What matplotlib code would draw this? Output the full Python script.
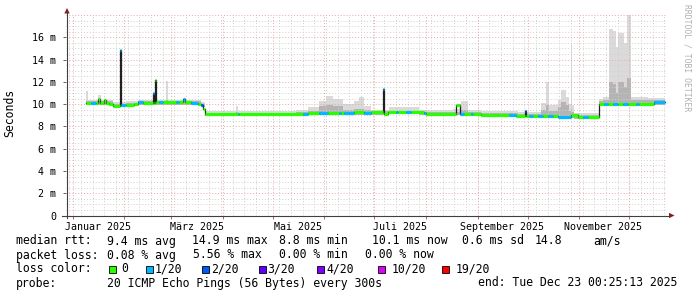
import matplotlib
matplotlib.use('Agg')
import matplotlib.pyplot as plt
import pandas as pd
from matplotlib.lines import Line2D
from matplotlib.patches import Polygon, Rectangle

# ---------------- data ----------------
x_start = "2024-12-28 00:25:13"
x_end = "2025-12-23 00:25:13"

med_dates = ["2025-01-09", "2025-01-12", "2025-01-15", "2025-01-16 12:00", "2025-01-17 12:00",
             "2025-01-20", "2025-01-21", "2025-01-23", "2025-01-25", "2025-01-29 12:00",
             "2025-01-30 02:00", "2025-02-02", "2025-02-07", "2025-02-09", "2025-02-12",
             "2025-02-18 00:00", "2025-02-18 14:00", "2025-02-19 12:00", "2025-02-20 02:00", "2025-02-22",
             "2025-02-24", "2025-03-04", "2025-03-06", "2025-03-08 12:00", "2025-03-09 12:00",
             "2025-03-13", "2025-03-17", "2025-03-19", "2025-03-20 12:00", "2025-03-21 12:00",
             "2025-04-10", "2025-04-11", "2025-05-19", "2025-05-22", "2025-05-29",
             "2025-06-03", "2025-06-10", "2025-06-11", "2025-06-13", "2025-06-19",
             "2025-06-25", "2025-06-29", "2025-07-06", "2025-07-06 15:00", "2025-07-09",
             "2025-07-14", "2025-07-15", "2025-07-20", "2025-07-23", "2025-07-31",
             "2025-08-01", "2025-08-19", "2025-08-21 12:00", "2025-08-24", "2025-08-28",
             "2025-08-29", "2025-09-03", "2025-09-13", "2025-09-20", "2025-09-24",
             "2025-09-29 12:00", "2025-09-30", "2025-10-02", "2025-10-04", "2025-10-07",
             "2025-10-10", "2025-10-13", "2025-10-16", "2025-10-19", "2025-10-27",
             "2025-10-31", "2025-11-03", "2025-11-06", "2025-11-13", "2025-11-16",
             "2025-11-18", "2025-11-21", "2025-11-24", "2025-11-27", "2025-11-30",
             "2025-12-05", "2025-12-07", "2025-12-16"]
med_values = [10.1, 10.1, 10.1, 10.45, 10.1,
              10.35, 10.1, 10.05, 9.85, 14.9,
              9.95, 9.95, 10.0, 10.15, 10.1,
              11.0, 10.1, 12.2, 10.15, 10.15,
              10.15, 10.15, 10.15, 10.45, 10.15,
              10.1, 10.05, 9.9, 9.6, 9.1,
              9.1, 9.1, 9.15, 9.2, 9.2,
              9.2, 9.2, 9.2, 9.2, 9.25,
              9.2, 9.25, 11.35, 9.1, 9.25,
              9.25, 9.25, 9.25, 9.25, 9.2,
              9.15, 9.95, 9.15, 9.15, 9.15,
              9.15, 9.05, 9.0, 9.0, 8.95,
              9.35, 8.9, 8.9, 8.9, 8.9,
              8.9, 8.9, 8.9, 8.85, 9.0,
              8.8, 8.8, 8.8, 10.0, 10.0,
              10.0, 10.0, 10.0, 10.0, 10.0,
              10.0, 10.05, 10.2]
med_loss = [0, 1, 0, 0, 0,
            0, 0, 0, 0, 1,
            1, 0, 0, 1, 0,
            1, 0, 0, 0, 1,
            0, 1, 0, 1, 0,
            1, 0, 2, 0, 0,
            1, 0, 1, 0, 1,
            0, 1, 0, 1, 0,
            1, 0, 1, 0, 0,
            1, 0, 1, 0, 1,
            0, 0, 1, 0, 1,
            0, 0, 0, 1, 0,
            2, 0, 1, 0, 1,
            0, 1, 0, 1, 0,
            0, 1, 0, 0, 1,
            0, 1, 0, 1, 0,
            1, 0, 1]
med_end = "2025-12-22 12:00"

smoke_dates = ["2025-01-09", "2025-01-10", "2025-01-16", "2025-01-18", "2025-01-25",
               "2025-02-02", "2025-02-09", "2025-02-26", "2025-02-27", "2025-03-19",
               "2025-03-21 12:00", "2025-04-09", "2025-04-10", "2025-05-15", "2025-05-22",
               "2025-05-29", "2025-06-02", "2025-06-06", "2025-06-12", "2025-06-19",
               "2025-06-22", "2025-06-25", "2025-06-29", "2025-07-10", "2025-07-28",
               "2025-08-17", "2025-08-22", "2025-08-26", "2025-09-03", "2025-09-25",
               "2025-10-09", "2025-10-12", "2025-10-14", "2025-10-19", "2025-10-21",
               "2025-10-24", "2025-10-26", "2025-10-27", "2025-10-27 18:00", "2025-10-29",
               "2025-11-13", "2025-11-15", "2025-11-19", "2025-11-21", "2025-11-23",
               "2025-11-24 12:00", "2025-11-28", "2025-11-29 12:00", "2025-12-02", "2025-12-12"]
smoke_min = [9.95, 9.95, 9.95, 9.95, 9.7,
             9.85, 9.95, 9.95, 9.95, 9.75,
             8.95, 8.95, 8.95, 8.95, 9.0,
             9.0, 9.0, 9.0, 9.0, 9.0,
             9.0, 9.0, 9.05, 9.1, 9.0,
             9.0, 9.0, 9.0, 8.9, 8.8,
             8.75, 8.75, 8.75, 8.75, 8.75,
             8.75, 8.75, 8.75, 8.75, 8.7,
             9.85, 9.85, 9.85, 9.85, 9.85,
             9.85, 9.85, 9.85, 9.85, 9.95]
smoke_mid = [10.3, 10.25, 10.5, 10.25, 10.0,
             10.1, 10.25, 10.4, 10.25, 10.0,
             9.2, 9.3, 9.2, 9.25, 9.4,
             9.8, 9.9, 9.8, 9.5, 9.55,
             9.6, 9.45, 9.35, 9.4, 9.3,
             9.3, 9.5, 9.3, 9.2, 9.1,
             9.5, 9.9, 9.4, 9.7, 10.2,
             9.9, 9.4, 9.6, 9.3, 9.0,
             10.3, 10.4, 12.0, 11.8, 11.0,
             12.0, 11.5, 12.3, 10.4, 10.35]
smoke_max = [11.2, 10.4, 10.8, 10.4, 10.15,
             10.25, 10.4, 12.1, 10.4, 10.15,
             9.35, 9.85, 9.35, 9.5, 9.7,
             10.3, 10.7, 10.45, 10.0, 10.25,
             10.6, 9.8, 9.5, 9.7, 9.45,
             9.6, 10.3, 9.45, 9.35, 9.3,
             10.1, 12.0, 9.9, 10.35, 11.3,
             10.65, 10.0, 15.45, 9.9, 9.2,
             10.5, 10.65, 16.7, 16.55, 15.15,
             16.35, 15.5, 18.0, 10.6, 10.55]
smoke_end = "2025-12-22 12:00"

y_ticks = [0, 2, 4, 6, 8, 10, 12, 14, 16]
y_ticklabels = ["0", "2 m", "4 m", "6 m", "8 m", "10 m", "12 m", "14 m", "16 m"]
month_label_dates = ["2025-01-16 12:00", "2025-03-16 12:00", "2025-05-16 12:00",
                     "2025-07-16 12:00", "2025-09-15 12:00", "2025-11-15 12:00"]
month_labels = ["Januar 2025", "M\u00e4rz 2025", "Mai 2025", "Juli 2025",
                "September 2025", "November 2025"]

loss_levels = ["0", "1/20", "2/20", "3/20", "4/20", "10/20", "19/20"]
loss_colors = ["#26ff00", "#00b8ff", "#0059ff", "#5e00ff", "#7e00ff", "#dd00ff", "#ff0000"]

legend_rtt = [("median rtt:", 16), ("9.4 ms avg", 107.3), ("14.9 ms max", 191.7),
              ("8.8 ms min", 279.3), ("10.1 ms now", 372.3), ("0.6 ms sd", 462.0),
              ("14.8", 535.0), ("am/s", 593.3)]
legend_loss = [("packet loss:", 16), ("0.08 % avg", 107.3), ("5.56 % max", 192.7),
               ("0.00 % min", 279.3), ("0.00 % now", 365.0)]
legend_box_x = [109, 145.7, 202.3, 259, 316.7, 377.7, 441.7]
legend_lab_x = [121, 155, 211, 267.7, 326, 391.7, 455.7]
probe_text = "20 ICMP Echo Pings (56 Bytes) every 300s"
end_text = "end: Tue Dec 23 00:25:13 2025"

# ---------------- figure ----------------
W, H = 697, 297
MONO = "DejaVu Sans Mono"
plt.rcParams['font.family'] = MONO
fig = plt.figure(figsize=(W / 100, H / 100), dpi=100)
fig.patch.set_facecolor('white')


def fx(x):
    return x / W


def fy(y):
    return 1 - y / H


def to_dt(lst):
    return pd.to_datetime(lst, format='mixed')


ax = fig.add_axes([fx(66), fy(215.5), 600 / W, 200.5 / H])
ax.set_facecolor('white')
ax.set_xlim(pd.Timestamp(x_start), pd.Timestamp(x_end))
ax.set_ylim(0, 18)
for s in ax.spines.values():
    s.set_visible(False)

# grid
minor_c = '#cfcfcf'
major_c = '#e8a8a8'
dot = (0, (1, 2))
for v in [i * 0.5 for i in range(1, 36)]:
    if v % 2 != 0:
        ax.axhline(v, color=minor_c, lw=0.7, ls=dot, zorder=2)
for v in y_ticks[1:] + [18]:
    ax.axhline(v, color=major_c, lw=0.7, ls=dot, zorder=2.1)
for d in pd.date_range("2024-12-30", "2025-12-22", freq="7D"):
    ax.axvline(d, color=minor_c, lw=0.7, ls=dot, zorder=2)
month_starts = pd.date_range("2025-01-01", "2025-12-01", freq="MS")
for d in month_starts:
    ax.axvline(d, color=major_c, lw=0.7, ls=dot, zorder=2.1)

# smoke
sd = to_dt(smoke_dates + [smoke_end])
smin = smoke_min + [smoke_min[-1]]
smid = smoke_mid + [smoke_mid[-1]]
smax = smoke_max + [smoke_max[-1]]
ax.fill_between(sd, smin, smax, step='post', color='#dadada', lw=0, zorder=1)
ax.fill_between(sd, smin, smid, step='post', color='#b4b4b4', lw=0, zorder=1.2)

# median
md = to_dt(med_dates + [med_end])
mv = med_values + [med_values[-1]]
ax.step(md, mv, where='post', color='#202020', lw=0.9, zorder=4)
for i in range(len(med_values)):
    ax.plot([md[i], md[i + 1]], [mv[i], mv[i]], color=loss_colors[med_loss[i]],
            lw=2.3, solid_capstyle='butt', zorder=5)

# ticks
ax.set_yticks(y_ticks)
ax.set_yticklabels(y_ticklabels)
ax.tick_params(axis='y', length=2.5, width=0.7, color='#606060', pad=4.5,
               labelsize=7.2, labelcolor='#000000')
ax.set_xticks(to_dt(month_label_dates))
ax.set_xticklabels(month_labels)
ax.set_xticks(month_starts, minor=True)
ax.tick_params(axis='x', which='major', length=0, pad=4.5, labelsize=7.2)
ax.tick_params(axis='x', which='minor', length=2.5, width=0.7, color='#c06060')

# axes lines & arrows
fig.add_artist(Line2D([fx(67), fx(67)], [fy(218), fy(11)], color='#404040', lw=0.8))
fig.add_artist(Line2D([fx(62), fx(670)], [fy(215.5), fy(215.5)], color='#404040', lw=0.8))
fig.add_artist(Polygon([(fx(64.3), fy(13.5)), (fx(69.7), fy(13.5)), (fx(67), fy(8))],
                       closed=True, color='#8b1a1a', lw=0))
fig.add_artist(Polygon([(fx(669), fy(212.8)), (fx(669), fy(218.2)), (fx(674.5), fy(215.5))],
                       closed=True, color='#8b1a1a', lw=0))

# labels
fig.text(fx(10), fy(113), "Seconds", rotation=90, ha='center', va='center',
         fontsize=8.3, family=MONO)
fig.text(fx(687.5), fy(4), "RRDTOOL / TOBI OETIKER", rotation=270, ha='center', va='top',
         fontsize=5.8, family=MONO, color='#b0b0b0')

# legend
LF = 8.3
for t, x in legend_rtt:
    fig.text(fx(x), fy(244.5), t, ha='left', va='baseline', fontsize=LF, family=MONO)
for t, x in legend_loss:
    fig.text(fx(x), fy(258.5), t, ha='left', va='baseline', fontsize=LF, family=MONO)
fig.text(fx(16), fy(272.5), "loss color:", ha='left', va='baseline', fontsize=LF, family=MONO)
for lab, c, bx, lx in zip(loss_levels, loss_colors, legend_box_x, legend_lab_x):
    fig.add_artist(Rectangle((fx(bx), fy(272.5)), 7 / W, 7 / H, transform=fig.transFigure,
                             facecolor=c, edgecolor='black', lw=0.6))
    fig.text(fx(lx), fy(272.5), lab, ha='left', va='baseline', fontsize=LF, family=MONO)
fig.text(fx(16), fy(286.5), "probe:", ha='left', va='baseline', fontsize=LF, family=MONO)
fig.text(fx(107.3), fy(286.5), probe_text, ha='left', va='baseline', fontsize=LF, family=MONO)
fig.text(fx(478.3), fy(286.5), end_text, ha='left', va='baseline', fontsize=LF, family=MONO)

fig.savefig("out.png", dpi=100, facecolor='white')
